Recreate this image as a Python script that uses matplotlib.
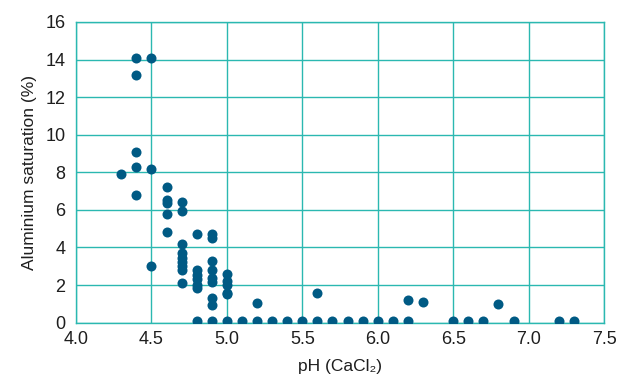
import matplotlib
matplotlib.use("Agg")
import matplotlib.pyplot as plt

ph = [4.3, 4.4, 4.4, 4.4, 4.4, 4.4, 4.5, 4.5, 4.5,
      4.6, 4.6, 4.6, 4.6, 4.6,
      4.7, 4.7, 4.7, 4.7, 4.7, 4.7, 4.7, 4.7, 4.7,
      4.8, 4.8, 4.8, 4.8, 4.8, 4.8, 4.8,
      4.9, 4.9, 4.9, 4.9, 4.9, 4.9, 4.9, 4.9, 4.9,
      5.0, 5.0, 5.0, 5.0, 5.0, 5.0,
      5.1, 5.2, 5.2, 5.3, 5.4, 5.5, 5.6, 5.6, 5.7, 5.8, 5.9, 6.0, 6.1,
      6.2, 6.2, 6.3, 6.5, 6.6, 6.7, 6.8, 6.9, 7.2, 7.3]
al_sat = [7.9, 14.1, 13.2, 9.1, 8.3, 6.8, 14.1, 8.2, 3.0,
          7.2, 6.5, 6.35, 5.8, 4.8,
          6.4, 5.95, 4.2, 3.7, 3.45, 3.25, 3.0, 2.8, 2.1,
          4.7, 2.8, 2.55, 2.3, 2.0, 1.85, 0.1,
          4.7, 4.5, 3.3, 2.8, 2.4, 2.15, 1.3, 0.95, 0.1,
          2.6, 2.2, 2.0, 1.6, 1.5, 0.1,
          0.1, 1.05, 0.1, 0.1, 0.1, 0.1, 1.6, 0.1, 0.1, 0.1, 0.1, 0.1, 0.1,
          1.2, 0.1, 1.1, 0.1, 0.1, 0.1, 1.0, 0.1, 0.1, 0.1]

x_ticks = [4.0, 4.5, 5.0, 5.5, 6.0, 6.5, 7.0, 7.5]
y_ticks = [0, 2, 4, 6, 8, 10, 12, 14, 16]

plt.rcParams['font.family'] = ['Liberation Sans', 'DejaVu Sans']

fig = plt.figure(figsize=(6.19, 3.78), dpi=100)
ax = fig.add_axes([0.1228, 0.1465, 0.8530, 0.7953])

grid_c = '#2bb8b1'
dot_c = '#005a84'
text_c = '#1e1e1e'

ax.scatter(ph, al_sat, s=52, color=dot_c, zorder=3, linewidths=0)
ax.set_xlim(4.0, 7.5)
ax.set_ylim(0, 16)
ax.set_xticks(x_ticks)
ax.set_xticklabels([f"{v:.1f}" for v in x_ticks])
ax.set_yticks(y_ticks)
ax.grid(True, color=grid_c, linewidth=1.0, zorder=1)
for s in ax.spines.values():
    s.set_color(grid_c)
    s.set_linewidth(1.0)
ax.tick_params(length=0, labelsize=13, colors=text_c)
ax.tick_params(axis='x', pad=6)
ax.tick_params(axis='y', pad=7.5)
ax.set_xlabel("pH (CaCl\u2082)", fontsize=12.5, color=text_c, labelpad=8)
ax.set_ylabel("Aluminium saturation (%)", fontsize=12.5, color=text_c, labelpad=6)
ax.set_axisbelow(True)

fig.savefig("out.png", dpi=100)
